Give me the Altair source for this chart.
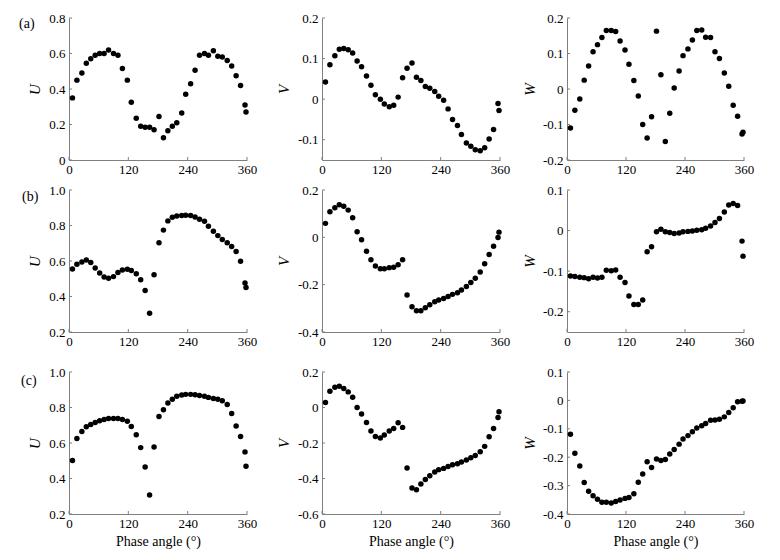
import altair as alt
import pandas as pd

FONT = "Liberation Serif"
GREY = "#7f7f7f"

phase = [7, 16, 26, 35, 44, 53, 62, 71, 80, 90, 99, 108, 118, 126, 136, 145, 154, 163, 172, 182,
         191, 200, 209, 218, 228, 236, 246, 255, 264, 274, 282, 292, 301, 310, 320, 329, 338, 347, 356, 358]

U_a = [0.35, 0.45, 0.49, 0.545, 0.57, 0.59, 0.60, 0.60, 0.62, 0.60, 0.59, 0.515, 0.45, 0.325, 0.235, 0.19, 0.185, 0.185, 0.17, 0.245,
       0.125, 0.165, 0.19, 0.21, 0.265, 0.37, 0.43, 0.505, 0.59, 0.60, 0.59, 0.615, 0.585, 0.58, 0.56, 0.53, 0.475, 0.42, 0.31, 0.27]
V_a = [0.042, 0.085, 0.107, 0.123, 0.125, 0.122, 0.114, 0.094, 0.080, 0.057, 0.034, 0.011, 0.0, -0.012, -0.019, -0.015, 0.005, 0.053, 0.076, 0.089,
       0.054, 0.046, 0.031, 0.027, 0.019, 0.007, -0.003, -0.024, -0.050, -0.065, -0.087, -0.108, -0.116, -0.125, -0.127, -0.120, -0.098, -0.075, -0.011, -0.028]
W_a = [-0.11, -0.06, -0.028, 0.025, 0.065, 0.105, 0.125, 0.145, 0.165, 0.165, 0.162, 0.135, 0.11, 0.07, 0.024, -0.02, -0.10, -0.138, -0.078, 0.163,
       0.04, -0.148, -0.068, 0.003, 0.051, 0.094, 0.113, 0.138, 0.165, 0.166, 0.146, 0.145, 0.105, 0.086, 0.045, 0.008, -0.046, -0.077, -0.127, -0.122]

U_b = [0.555, 0.582, 0.595, 0.606, 0.591, 0.561, 0.533, 0.510, 0.503, 0.512, 0.535, 0.549, 0.553, 0.547, 0.528, 0.494, 0.434, 0.305, 0.522, 0.703,
       0.774, 0.826, 0.847, 0.854, 0.856, 0.858, 0.856, 0.848, 0.835, 0.824, 0.796, 0.768, 0.743, 0.721, 0.703, 0.682, 0.654, 0.598, 0.476, 0.451]
V_b = [0.059, 0.108, 0.125, 0.138, 0.131, 0.115, 0.083, 0.024, -0.010, -0.059, -0.095, -0.121, -0.133, -0.133, -0.128, -0.126, -0.116, -0.095, -0.244, -0.293,
       -0.310, -0.310, -0.298, -0.285, -0.272, -0.265, -0.258, -0.250, -0.241, -0.234, -0.223, -0.208, -0.191, -0.173, -0.146, -0.112, -0.073, -0.038, -0.001, 0.022]
W_b = [-0.112, -0.113, -0.115, -0.116, -0.119, -0.115, -0.117, -0.115, -0.098, -0.099, -0.097, -0.115, -0.128, -0.161, -0.182, -0.182, -0.171, -0.052, -0.040, -0.003,
       0.003, -0.003, -0.005, -0.007, -0.006, -0.003, -0.002, -0.001, 0.001, 0.002, 0.006, 0.011, 0.020, 0.030, 0.046, 0.063, 0.067, 0.062, -0.026, -0.063]

U_c = [0.501, 0.625, 0.665, 0.691, 0.704, 0.715, 0.725, 0.733, 0.738, 0.738, 0.738, 0.733, 0.723, 0.693, 0.646, 0.574, 0.465, 0.307, 0.578, 0.749,
       0.787, 0.825, 0.846, 0.863, 0.870, 0.874, 0.874, 0.872, 0.868, 0.863, 0.857, 0.851, 0.846, 0.838, 0.817, 0.766, 0.696, 0.636, 0.550, 0.469]
V_c = [0.028, 0.092, 0.114, 0.120, 0.107, 0.088, 0.058, 0.0, -0.036, -0.084, -0.133, -0.163, -0.172, -0.155, -0.133, -0.118, -0.086, -0.112, -0.341, -0.453,
       -0.463, -0.431, -0.405, -0.384, -0.364, -0.350, -0.343, -0.332, -0.322, -0.317, -0.307, -0.296, -0.283, -0.270, -0.249, -0.219, -0.165, -0.118, -0.056, -0.024]
W_c = [-0.119, -0.186, -0.231, -0.289, -0.320, -0.336, -0.348, -0.359, -0.359, -0.361, -0.356, -0.351, -0.345, -0.342, -0.329, -0.288, -0.259, -0.216, -0.236, -0.206,
       -0.212, -0.208, -0.189, -0.173, -0.154, -0.136, -0.124, -0.110, -0.097, -0.089, -0.081, -0.070, -0.069, -0.066, -0.058, -0.043, -0.026, -0.005, -0.003, -0.002]

x_ticks = [0, 120, 240, 360]

U_ab_domain, U_ab_ticks = [0, 0.8], [0, 0.2, 0.4, 0.6, 0.8]
V_a_domain, V_a_ticks = [-0.15, 0.2], [-0.1, 0, 0.1, 0.2]
W_a_domain, W_a_ticks = [-0.2, 0.2], [-0.2, -0.1, 0, 0.1, 0.2]
U_bc_domain, U_bc_ticks = [0.2, 1.0], [0.2, 0.4, 0.6, 0.8, 1.0]
V_b_domain, V_b_ticks = [-0.4, 0.2], [-0.4, -0.2, 0, 0.2]
W_b_domain, W_b_ticks = [-0.25, 0.1], [-0.2, -0.1, 0, 0.1]
V_c_domain, V_c_ticks = [-0.6, 0.2], [-0.6, -0.4, -0.2, 0, 0.2]
W_c_domain, W_c_ticks = [-0.4, 0.1], [-0.4, -0.3, -0.2, -0.1, 0, 0.1]

H = 142
WIDTHS = [178, 178, 177]
GAP_X = [75, 67]
GAP_Y = [30, 40]

LABEL_EXPR = ("datum.value == 0 ? '0' : (datum.value < 0 ? '-' + format(-datum.value, '.1f') "
              ": format(datum.value, '.1f'))")


def panel(values, name, domain, ticks, width, title_x, tag=None, tag_pos=None, xtitle=False):
    df = pd.DataFrame({"phase": phase, "val": values})
    X = alt.X("phase:Q",
              scale=alt.Scale(domain=[0, 360], nice=False, zero=False),
              axis=alt.Axis(values=x_ticks, title="Phase angle (°)" if xtitle else None,
                            ticks=False, labelPadding=3, labelFlush=False, grid=False,
                            titlePadding=4, titleFontSize=14, titleFontWeight="normal"))
    Y = alt.Y("val:Q",
              scale=alt.Scale(domain=domain, nice=False, zero=False),
              axis=alt.Axis(values=ticks, title=name, ticks=False, labelPadding=4,
                            labelFlush=False, grid=False, labelExpr=LABEL_EXPR,
                            titleFontStyle="italic", titleFontSize=15, titleFontWeight="normal",
                            titleX=title_x, titleY=H / 2, titleAngle=270,
                            titleAlign="center", titleBaseline="middle"))
    pts = alt.Chart(df).mark_circle(size=30, color="black", opacity=1).encode(x=X, y=Y)
    xt = alt.Chart(pd.DataFrame({"phase": x_ticks})).mark_rule(color=GREY, strokeWidth=1).encode(
        x=X, y=alt.value(H), y2=alt.value(H - 3))
    yt = alt.Chart(pd.DataFrame({"val": ticks})).mark_rule(color=GREY, strokeWidth=1).encode(
        y=Y, x=alt.value(0), x2=alt.value(3))
    layers = [xt, yt, pts]
    if tag:
        layers.append(
            alt.Chart(pd.DataFrame({"t": [tag]})).mark_text(
                align="left", baseline="middle", font=FONT, fontSize=14, color="black"
            ).encode(text="t:N", x=alt.value(tag_pos[0]), y=alt.value(tag_pos[1]))
        )
    return alt.layer(*layers).properties(width=width, height=H)


def spacer(w, h):
    return alt.Chart(pd.DataFrame({"s": [0]})).mark_point(opacity=0).encode(
        x=alt.value(0), y=alt.value(0)).properties(width=w, height=h)


rows = [
    [panel(U_a, "U", U_ab_domain, U_ab_ticks, WIDTHS[0], -35, "(a)", (-50, 6)),
     panel(V_a, "V", V_a_domain, V_a_ticks, WIDTHS[1], -39),
     panel(W_a, "W", W_a_domain, W_a_ticks, WIDTHS[2], -38)],
    [panel(U_b, "U", U_bc_domain, U_bc_ticks, WIDTHS[0], -35, "(b)", (-47, 7)),
     panel(V_b, "V", V_b_domain, V_b_ticks, WIDTHS[1], -39),
     panel(W_b, "W", W_b_domain, W_b_ticks, WIDTHS[2], -38)],
    [panel(U_c, "U", U_bc_domain, U_bc_ticks, WIDTHS[0], -35, "(c)", (-48, 9), xtitle=True),
     panel(V_c, "V", V_c_domain, V_c_ticks, WIDTHS[1], -39, xtitle=True),
     panel(W_c, "W", W_c_domain, W_c_ticks, WIDTHS[2], -38, xtitle=True)],
]

items = []
for i, r in enumerate(rows):
    items += [r[0], spacer(GAP_X[0], 1), r[1], spacer(GAP_X[1], 1), r[2]]
    if i < 2:
        items += [spacer(1, GAP_Y[i]) for _ in range(5)]

chart = alt.concat(*items, columns=5, spacing=0, bounds="flush").properties(
    padding={"left": 11, "top": 4, "right": 5, "bottom": 5},
    background="white",
).configure_view(stroke=None).configure_axis(
    domainColor=GREY, domainWidth=1, labelFont=FONT, labelFontSize=13, labelColor="black",
    titleFont=FONT, titleColor="black",
)

chart.save("out.html", embed_options={"renderer": "svg", "actions": False})
